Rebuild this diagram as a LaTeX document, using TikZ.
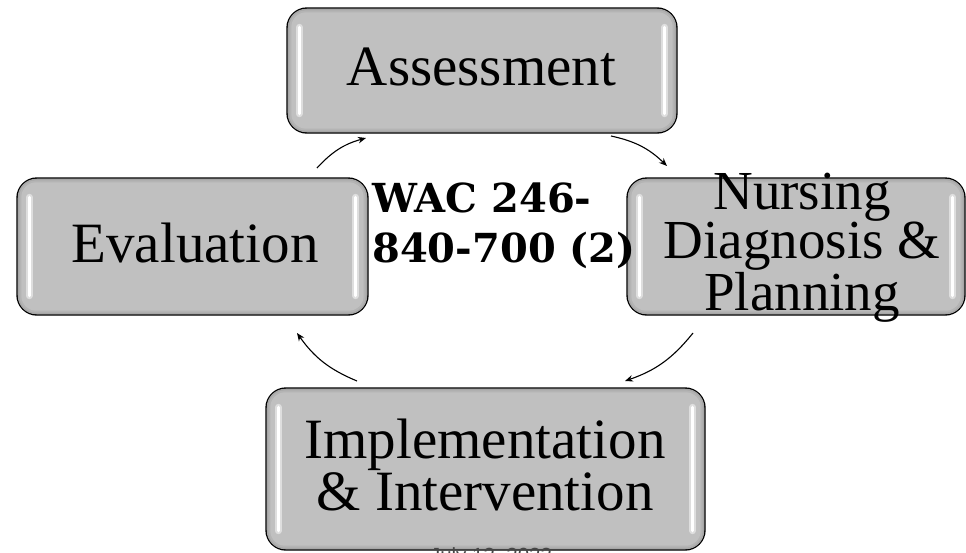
\documentclass[tikz,border=0pt]{standalone}
\usepackage{fontspec}
\setmainfont{Liberation Serif}
\newfontfamily\wacfont{DejaVu Serif}
\newfontfamily\datefont{Liberation Sans}
\usetikzlibrary{arrows.meta,calc}

\definecolor{boxfill}{RGB}{192,192,192}
\definecolor{boxshadeA}{RGB}{150,150,150}
\definecolor{boxshadeB}{RGB}{166,166,166}
\definecolor{boxshadeC}{RGB}{180,180,180}
\definecolor{boxglow}{RGB}{222,222,222}
\definecolor{datecolor}{RGB}{70,70,70}

\tikzset{
  stagebox/.style={rectangle, rounded corners=20pt, draw=black, line width=1.4pt,
    fill=boxshadeA, inner sep=0pt},
  stagetext/.style={font=\fontsize{57}{50}\selectfont, align=center, anchor=base, inner sep=0pt},
  cyclearrow/.style={-{Stealth[length=8pt,width=6.5pt]}, line width=1.1pt, bend left=16},
}

% inner shading and glossy side highlights of a stage box
\newcommand\glossify[1]{%
  \foreach \ins/\rad/\col in {1.5/18.5/boxshadeB, 3/17/boxshadeC, 5/15/boxfill} {
    \fill[\col, rounded corners=\rad pt]
      ($(#1.north west)+(\ins,\ins)$) rectangle ($(#1.south east)+(-\ins,-\ins)$);
  }
  \draw[boxglow, line width=7pt, line cap=round]
    ($(#1.north west)+(13,20)$) -- ($(#1.south west)+(13,-20)$);
  \draw[white, line width=3.2pt, line cap=round]
    ($(#1.north west)+(13,20)$) -- ($(#1.south west)+(13,-20)$);
  \draw[boxglow, line width=7pt, line cap=round]
    ($(#1.north east)+(-13,20)$) -- ($(#1.south east)+(-13,-20)$);
  \draw[white, line width=3.2pt, line cap=round]
    ($(#1.north east)+(-13,20)$) -- ($(#1.south east)+(-13,-20)$);
}

\begin{document}
\begin{tikzpicture}[x=1pt,y=-1pt]
  \useasboundingbox (0,0) rectangle (966,552);
  \fill[white] (0,0) rectangle (966,552);

  % stage boxes
  \node[stagebox, minimum width=390pt, minimum height=125pt] (assess) at (482,70.5) {};
  \node[stagebox, minimum width=351pt, minimum height=137pt] (eval) at (192.5,246.5) {};
  \node[stagebox, minimum width=338pt, minimum height=137pt] (nurse) at (796,246.5) {};
  \node[stagebox, minimum width=439pt, minimum height=162pt] (impl) at (485.5,469) {};
  \glossify{assess}
  \glossify{eval}
  \glossify{nurse}
  \glossify{impl}

  % stage labels (base anchor sits on the last line)
  \node[stagetext] (assessT) at (481.5,85) {Assessment};
  \node[stagetext] (evalT) at (195,262) {Evaluation};
  \node[stagetext, font=\fontsize{55}{47}\selectfont] (nurseT) at (802,310)
    {Nursing\\Diagnosis \&\\Planning};
  \node[stagetext] (implT) at (485,510) {Implementation\\\& Intervention};

  % centre reference
  \node[font=\wacfont\bfseries\fontsize{40}{50}\selectfont, align=left, anchor=base west,
    inner sep=0pt] (wac) at (372,262) {WAC 246-\\840-700 (2)};

  % date footer
  \node[font=\datefont\fontsize{20.5}{24}\selectfont, text=datecolor, anchor=base,
    inner sep=0pt] (date) at (491,562) {July 13, 2023};

  % cycle connectors
  \coordinate (a1s) at (317,168); \coordinate (a1e) at (366,138);
  \coordinate (a2s) at (611,136); \coordinate (a2e) at (667,166);
  \coordinate (a3s) at (693,333); \coordinate (a3e) at (625,381);
  \coordinate (a4s) at (357,381); \coordinate (a4e) at (297,333);
  \draw[cyclearrow] (a1s) to (a1e);
  \draw[cyclearrow] (a2s) to (a2e);
  \draw[cyclearrow] (a3s) to (a3e);
  \draw[cyclearrow] (a4s) to (a4e);
\end{tikzpicture}
\end{document}
